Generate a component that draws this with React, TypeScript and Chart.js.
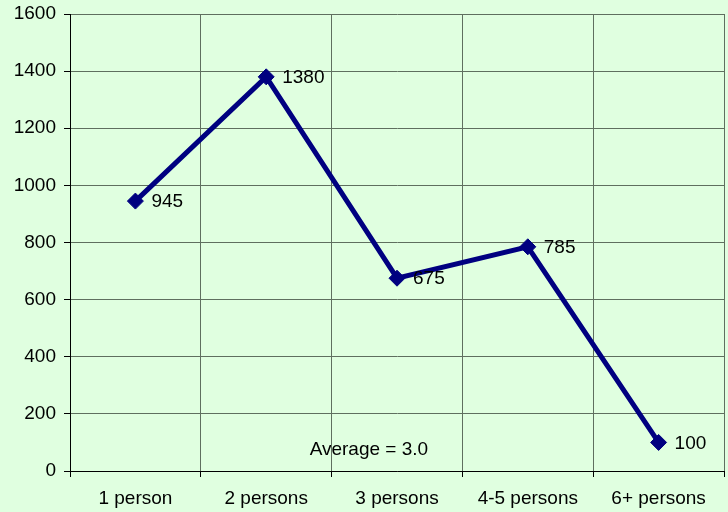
import React, { useEffect, useRef } from "react";
import { Chart, registerables } from "chart.js";

Chart.register(...registerables);

const categories = ["1 person", "2 persons", "3 persons", "4-5 persons", "6+ persons"];
const households = [945, 1380, 675, 785, 100];
const yTicks = [0, 200, 400, 600, 800, 1000, 1200, 1400, 1600];
const annotationText = "Average = 3.0";

const FONT = "'Liberation Sans', Arial, sans-serif";
const FS = 19;

export default function App() {
  const ref = useRef<HTMLCanvasElement | null>(null);

  useEffect(() => {
    document.body.style.margin = "0";
    const canvas = ref.current;
    if (!canvas) return;

    const labelPlugin = {
      id: "labels",
      beforeDraw(chart: any) {
        const ctx = chart.ctx;
        const area = chart.chartArea;
        const y = chart.scales.y;
        ctx.save();
        ctx.font = `${FS}px ${FONT}`;
        ctx.fillStyle = "#000";
        ctx.textAlign = "center";
        ctx.textBaseline = "middle";
        ctx.fillText(annotationText, area.left + 0.457 * (area.right - area.left), y.getPixelForValue(75));
        ctx.restore();
      },
      afterDatasetsDraw(chart: any) {
        const ctx = chart.ctx;
        const meta = chart.getDatasetMeta(0);
        ctx.save();
        ctx.font = `${FS}px ${FONT}`;
        ctx.fillStyle = "#000";
        ctx.textAlign = "left";
        ctx.textBaseline = "middle";
        meta.data.forEach((pt: any, i: number) => {
          ctx.fillText(String(households[i]), pt.x + 16, pt.y + 1);
        });
        ctx.restore();
      },
    };

    const chart = new Chart(canvas, {
      type: "line",
      data: {
        labels: categories,
        datasets: [
          {
            data: households,
            borderColor: "#000080",
            backgroundColor: "#000080",
            borderWidth: 5,
            pointStyle: "rectRot",
            pointRadius: 8,
            pointBackgroundColor: "#000080",
            pointBorderColor: "#000080",
            pointBorderWidth: 1,
            tension: 0,
            fill: false,
          },
        ],
      },
      options: {
        animation: false,
        responsive: false,
        maintainAspectRatio: false,
        layout: { autoPadding: false, padding: { top: 14, right: 4, left: 0, bottom: 0 } },
        plugins: {
          legend: { display: false },
          tooltip: { enabled: false },
          title: { display: false },
        },
        scales: {
          x: {
            type: "category",
            offset: true,
            grid: {
              offset: true,
              color: "#5f6f5f",
              lineWidth: 1,
              tickLength: 6,
              tickColor: "#000",
            },
            border: { color: "#000", width: 1 },
            ticks: {
              color: "#000",
              font: { family: FONT, size: FS },
              padding: 10,
              maxRotation: 0,
            },
            afterFit(scale: any) {
              scale.height = 41;
              scale.paddingLeft = 0;
              scale.paddingRight = 0;
            },
          },
          y: {
            min: 0,
            max: 1600,
            afterBuildTicks(scale: any) {
              scale.ticks = yTicks.map((v) => ({ value: v }));
            },
            grid: {
              color: "#5f6f5f",
              lineWidth: 1,
              tickLength: 6,
              tickColor: "#000",
            },
            border: { color: "#000", width: 1 },
            ticks: {
              color: "#000",
              font: { family: FONT, size: FS },
              padding: 8,
              callback: (v: any) => String(v),
            },
            afterFit(scale: any) {
              scale.width = 70;
              scale.paddingTop = 0;
              scale.paddingBottom = 0;
            },
          },
        },
      },
      plugins: [labelPlugin],
    });

    return () => chart.destroy();
  }, []);

  return (
    <div style={{ position: "absolute", left: 0, top: 0, width: 728, height: 512, background: "#e0ffe0" }}>
      <canvas ref={ref} width={728} height={512} style={{ width: 728, height: 512, display: "block" }} />
    </div>
  );
}
